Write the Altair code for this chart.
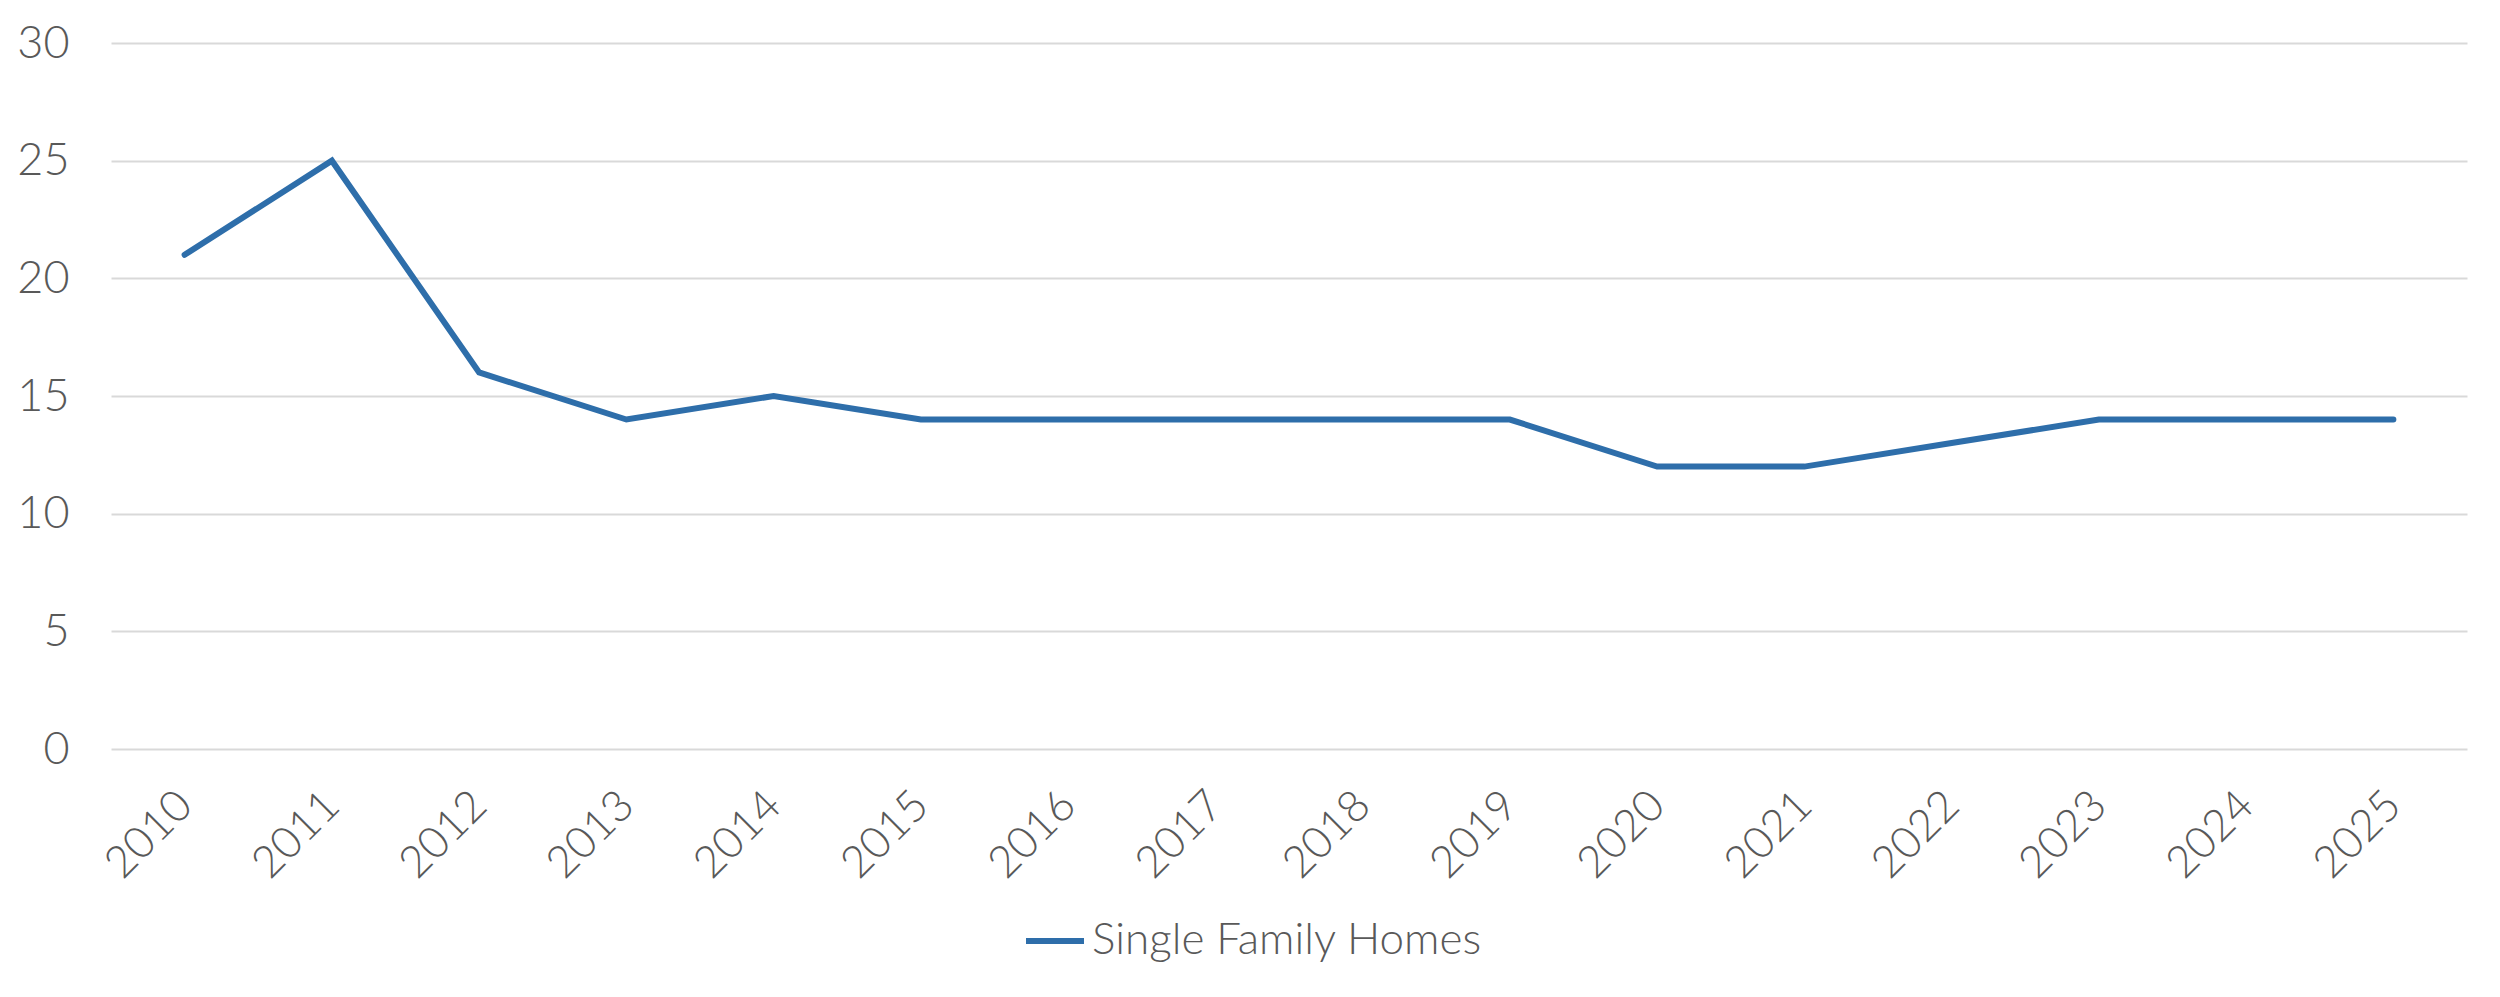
import altair as alt
import pandas as pd

years = [str(y) for y in range(2010, 2026)]
values = [21, 25, 16, 14, 15, 14, 14, 14, 14, 14, 12, 12, 13, 14, 14, 14]
series = "Single Family Homes"

df = pd.DataFrame({"Year": years, "Value": values, "Series": [series] * len(years)})

FONT = "Lato"
TXT = "#595959"
BLUE = "#2E6EAA"

chart = alt.Chart(df).mark_line(strokeWidth=6, strokeCap="round", strokeJoin="miter").encode(
    x=alt.X("Year:O", sort=years, title=None,
            scale=alt.Scale(padding=0.5),
            axis=alt.Axis(labelAngle=-45, labelFontSize=44, labelFont=FONT, labelFontWeight=300,
                          labelColor=TXT, domain=False, ticks=False, grid=False,
                          labelPadding=34, labelOffset=-15)),
    y=alt.Y("Value:Q", title=None,
            scale=alt.Scale(domain=[0, 30], nice=False),
            axis=alt.Axis(values=[0, 5, 10, 15, 20, 25, 30], labelFontSize=45, labelFont=FONT,
                          labelFontWeight=300, labelColor=TXT, domain=False, ticks=False,
                          gridColor="#d9d9d9", gridWidth=2, labelPadding=42)),
    color=alt.Color("Series:N", scale=alt.Scale(domain=[series], range=[BLUE]),
                    legend=alt.Legend(title=None, orient="none", legendX=912, legendY=866,
                                      direction="horizontal", symbolType="stroke",
                                      symbolSize=3364, symbolStrokeWidth=6,
                                      labelFontSize=44, labelFont=FONT, labelFontWeight=300,
                                      labelColor=TXT, labelOffset=5, labelLimit=0, padding=0)),
).properties(
    width=2356, height=706,
    background="white",
    autosize=alt.AutoSizeParams(type="none"),
    padding={"left": 103, "top": 35, "right": 25, "bottom": 240},
).configure_view(stroke=None)

chart.save("out.html", embed_options={"renderer": "svg", "actions": False})
